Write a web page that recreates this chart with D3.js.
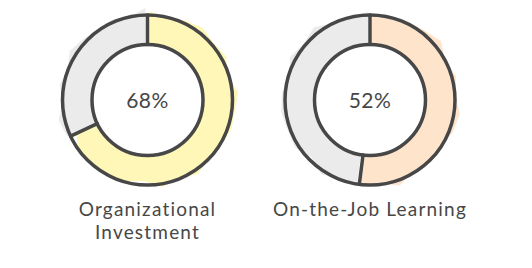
<!DOCTYPE html>
<html><head><meta charset="utf-8">
<script src="https://cdn.jsdelivr.net/npm/d3@7/dist/d3.min.js"></script>
<style>body{margin:0;background:#fff}svg{display:block}</style>
</head><body>
<svg id="chart" width="532" height="268"></svg>
<script>
// Data
const categories = ["Organizational Investment", "On-the-Job Learning"];
const values = [68, 52];
const totals = [100, 100];
const fillColors = ["#fff7b8", "#ffe4cc"];
const restColor = "#ebebeb";

const W = 532, H = 268;
const svg = d3.select("#chart");
const ink = "#474747";
const font = "Lato, 'Open Sans', sans-serif";

const x = d3.scalePoint().domain(categories).range([147.5, 370]);
const cy = 100;
const R = 85, r = 55.5;

const pie = d3.pie().sort(null).value(d => d);

// deterministic jagged fill path around arc
function jaggedArc(a0, a1, seed, dx, dy) {
  const pts = [];
  const n = Math.max(4, Math.ceil((a1 - a0) / 0.22));
  for (let i = 0; i <= n; i++) {
    const a = a0 + (a1 - a0) * i / n;
    const j = 3 * Math.sin(i * 2.7 + seed) + 2 * Math.cos(i * 1.3 + seed * 2);
    const rr = R + 1 + j;
    pts.push([Math.sin(a) * rr + dx, -Math.cos(a) * rr + dy]);
  }
  for (let i = n; i >= 0; i--) {
    const a = a0 + (a1 - a0) * i / n;
    const rr = r - 2;
    pts.push([Math.sin(a) * rr + dx, -Math.cos(a) * rr + dy]);
  }
  return "M" + pts.map(p => p[0].toFixed(2) + "," + p[1].toFixed(2)).join("L") + "Z";
}

categories.forEach((cat, i) => {
  const g = svg.append("g").attr("transform", `translate(${x(cat)},${cy})`);
  const arcs = pie([values[i], totals[i] - values[i]]);
  arcs.forEach((a, k) => {
    g.append("path")
      .attr("d", jaggedArc(a.startAngle, a.endAngle, i * 3 + k * 5 + 1, k === 0 ? 2 : -2, -1))
      .attr("fill", k === 0 ? fillColors[i] : restColor);
  });
  // inner white
  g.append("circle").attr("r", r).attr("fill", "#fff").attr("stroke", ink).attr("stroke-width", 3.5);
  g.append("circle").attr("r", R).attr("fill", "none").attr("stroke", ink).attr("stroke-width", 3.5);
  // dividers
  [arcs[0].startAngle, arcs[0].endAngle].forEach(ang => {
    g.append("line")
      .attr("x1", Math.sin(ang) * r).attr("y1", -Math.cos(ang) * r)
      .attr("x2", Math.sin(ang) * R).attr("y2", -Math.cos(ang) * R)
      .attr("stroke", ink).attr("stroke-width", 3.5).attr("stroke-linecap", "round");
  });
  g.append("text")
    .attr("text-anchor", "middle").attr("y", 7.5)
    .attr("font-family", font).attr("font-size", 21).attr("fill", ink)
    .attr("letter-spacing", 0.5)
    .text(Math.round(values[i] / totals[i] * 100) + "%");

  // label with wrap
  const words = cat.split(" ");
  const lines = [];
  const tmp = svg.append("text").attr("font-family", font).attr("font-size", 19).attr("letter-spacing", 1.2);
  let cur = "";
  words.forEach(w => {
    const test = cur ? cur + " " + w : w;
    tmp.text(test);
    if (tmp.node().getComputedTextLength() > 205 && cur) { lines.push(cur); cur = w; }
    else cur = test;
  });
  lines.push(cur);
  tmp.remove();
  const t = svg.append("text").attr("text-anchor", "middle")
    .attr("font-family", font).attr("font-size", 19).attr("fill", ink).attr("letter-spacing", 1.2);
  lines.forEach((ln, li) => {
    t.append("tspan").attr("x", x(cat)).attr("y", 216 + li * 23).text(ln);
  });
});
</script>
</body></html>
